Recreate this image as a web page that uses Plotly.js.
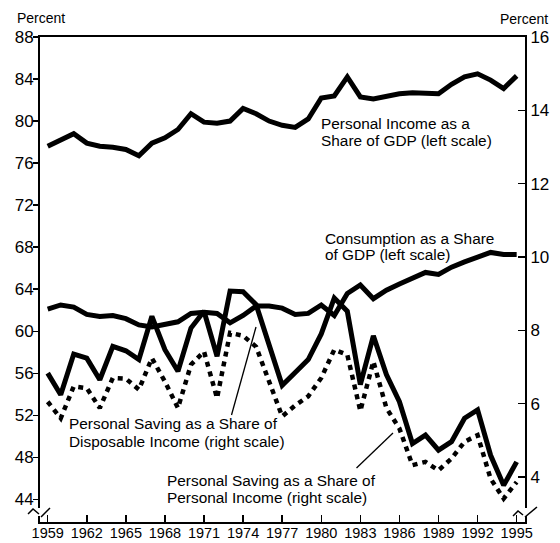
<!DOCTYPE html>
<html><head><meta charset="utf-8">
<script src="https://cdn.plot.ly/plotly-3.0.1.min.js"></script>
<style>html,body{margin:0;padding:0;background:#fff}#chart{width:560px;height:543px}</style>
</head><body><div id="chart"></div>
<script>
// ---- data ----
const years = [1959,1960,1961,1962,1963,1964,1965,1966,1967,1968,1969,1970,1971,1972,1973,1974,1975,1976,1977,1978,1979,1980,1981,1982,1983,1984,1985,1986,1987,1988,1989,1990,1991,1992,1993,1994,1995];
const personalIncomeShareGDP = [77.6,78.2,78.8,77.9,77.6,77.5,77.3,76.7,77.9,78.4,79.2,80.7,79.9,79.8,80.0,81.2,80.7,80.0,79.6,79.4,80.2,82.2,82.4,84.2,82.3,82.1,82.4,82.6,82.7,82.7,82.6,83.5,84.2,84.5,83.9,83.1,84.3];
const consumptionShareGDP = [62.1,62.5,62.3,61.6,61.4,61.5,61.2,60.6,60.4,60.7,60.9,61.7,61.8,61.7,60.8,61.5,62.4,62.4,62.2,61.6,61.7,62.5,61.5,63.6,64.4,63.1,63.9,64.5,65.0,65.6,65.4,66.1,66.6,67.0,67.5,67.3,67.3];
const savingShareDisposable = [6.83,6.24,7.35,7.24,6.65,7.56,7.44,7.20,8.38,7.47,6.88,8.06,8.52,7.29,9.07,9.05,8.70,7.6,6.50,6.85,7.2,7.9,8.88,8.52,6.52,7.85,6.79,6.05,4.91,5.14,4.73,4.96,5.60,5.83,4.59,3.77,4.41];
const savingSharePersonal = [6.05,5.6,6.47,6.42,5.88,6.70,6.68,6.38,7.24,6.60,5.88,7.06,7.42,6.15,7.93,7.85,7.55,6.6,5.65,5.95,6.2,6.70,7.47,7.33,5.80,7.15,5.88,5.32,4.32,4.41,4.18,4.50,4.96,5.14,3.95,3.41,3.86];
const xTickYears = [1959,1962,1965,1968,1971,1974,1977,1980,1983,1986,1989,1992,1995];
const leftTicks = [44,48,52,56,60,64,68,72,76,80,84,88];
const rightTicks = [4,6,8,10,12,14,16];
const labelPersonalIncome = ["Personal Income as a","Share of GDP (left scale)"];
const labelConsumption = ["Consumption as a Share","of GDP (left scale)"];
const labelSavingDI = ["Personal Saving as a Share of","Disposable Income (right scale)"];
const labelSavingPI = ["Personal Saving as a Share of","Personal Income (right scale)"];
const unitLabel = "Percent";

// ---- geometry helpers (pixel -> paper) ----
const L=40, R=525, T=37, B=522;
const px = x => (x-L)/(R-L);
const py = y => (B-y)/(B-T);

const traces = [
  {x:years, y:personalIncomeShareGDP, type:'scatter', mode:'lines', line:{color:'#000', width:5}, yaxis:'y'},
  {x:years, y:consumptionShareGDP, type:'scatter', mode:'lines', line:{color:'#000', width:5}, yaxis:'y'},
  {x:years, y:savingShareDisposable, type:'scatter', mode:'lines', line:{color:'#000', width:5}, yaxis:'y2'},
  {x:years, y:savingSharePersonal, type:'scatter', mode:'lines', line:{color:'#000', width:4.5, dash:'5px,5px'}, yaxis:'y2'}
];

const fs = 15.4;
function textLine(t, x, y){
  return {text:t, xref:'paper', yref:'paper', x:px(x), y:py(y), xanchor:'left', yanchor:'middle', showarrow:false, font:{size:fs, color:'#000'}};
}
const annotations = [
  textLine(labelPersonalIncome[0], 319, 123), textLine(labelPersonalIncome[1], 319, 140),
  textLine(labelConsumption[0], 323, 238), textLine(labelConsumption[1], 323, 255),
  textLine(labelSavingDI[0], 67, 423), textLine(labelSavingDI[1], 67, 441),
  textLine(labelSavingPI[0], 165, 480), textLine(labelSavingPI[1], 165, 497),
  {text:unitLabel, xref:'paper', yref:'paper', x:px(15), y:py(18), xanchor:'left', yanchor:'middle', showarrow:false, font:{size:14, color:'#000'}},
  {text:unitLabel, xref:'paper', yref:'paper', x:px(550), y:py(19), xanchor:'right', yanchor:'middle', showarrow:false, font:{size:14, color:'#000'}}
];

function seg(x0,y0,x1,y1,w){
  return {type:'line', xref:'paper', yref:'paper', x0:px(x0), y0:py(y0), x1:px(x1), y1:py(y1), line:{color:'#000', width:w||1.3}};
}
function pathPx(pts){
  return pts.map((p,i)=>(i===0?'M':'L')+px(p[0]).toFixed(4)+','+py(p[1]).toFixed(4)).join(' ');
}
const shapes = [
  seg(231.5,415,256,327),
  seg(356.5,468,393,433),
  // axis break marks
  {type:'rect', xref:'paper', yref:'paper', x0:px(37), x1:px(43), y0:py(516), y1:py(508), fillcolor:'#fff', line:{width:0}},
  {type:'path', xref:'paper', yref:'paper', path:pathPx([[28,514],[33,509],[39,514]]), line:{color:'#000', width:1.5}},
  {type:'path', xref:'paper', yref:'paper', path:pathPx([[41,517],[50,508]]), line:{color:'#000', width:1.5}},
  {type:'rect', xref:'paper', yref:'paper', x0:px(522), x1:px(528), y0:py(516), y1:py(508), fillcolor:'#fff', line:{width:0}},
  {type:'path', xref:'paper', yref:'paper', path:pathPx([[513,516],[518,511],[523,515]]), line:{color:'#000', width:1.5}},
  {type:'path', xref:'paper', yref:'paper', path:pathPx([[525,517],[537,507]]), line:{color:'#000', width:1.5}}
];

const layout = {
  width:560, height:543,
  margin:{l:L, r:560-R, t:T, b:543-B, pad:0},
  paper_bgcolor:'#fff', plot_bgcolor:'#fff',
  showlegend:false,
  font:{family:'"Liberation Sans", Arial, Helvetica, sans-serif', color:'#000'},
  xaxis:{range:[1958.41,1995.64], tickmode:'array', tickvals:xTickYears, ticktext:xTickYears.map(String),
    ticks:'inside', ticklen:7, tickwidth:1.5, tickcolor:'#000', showline:true, linewidth:2, linecolor:'#000', mirror:true,
    showgrid:false, zeroline:false, tickfont:{size:14.5, color:'#000'}, ticklabelstandoff:-3, fixedrange:true},
  yaxis:{range:[41.85,88], tickmode:'array', tickvals:leftTicks, ticks:'outside', ticklen:5, tickwidth:1.5, tickcolor:'#000',
    showline:true, linewidth:2, linecolor:'#000', showgrid:false, zeroline:false, tickfont:{size:17, color:'#000'}, ticklabelstandoff:-4, fixedrange:true},
  yaxis2:{overlaying:'y', side:'right', range:[2.77,16], tickmode:'array', tickvals:rightTicks, ticks:'inside', ticklen:7, tickwidth:1.5, tickcolor:'#000',
    showline:true, linewidth:2, linecolor:'#000', showgrid:false, zeroline:false, tickfont:{size:17, color:'#000'}, fixedrange:true},
  annotations: annotations,
  shapes: shapes
};

Plotly.newPlot('chart', traces, layout, {displayModeBar:false, staticPlot:true});
</script>
</body></html>
